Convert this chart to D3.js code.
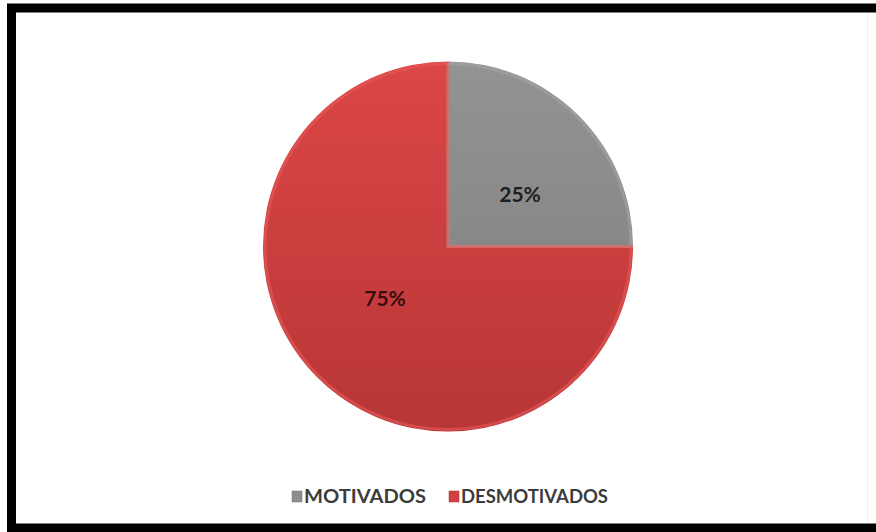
<!DOCTYPE html>
<html><head><meta charset="utf-8">
<script src="https://cdn.jsdelivr.net/npm/d3@7"></script>
<style>html,body{margin:0;padding:0;background:#fff;}svg{display:block;}</style>
</head><body>
<svg id="chart" width="876" height="532"></svg>
<script>
const categories = ["MOTIVADOS", "DESMOTIVADOS"];
const values = [25, 75];
const labels = ["25%", "75%"];
const colors = ["#8d8d8d", "#cf4040"];

const svg = d3.select("#chart");
const font = "Lato, 'Open Sans', sans-serif";

// frame
svg.append("rect").attr("x", 11.5).attr("y", 8).attr("width", 880).attr("height", 520)
  .attr("fill", "#fff").attr("stroke", "#000").attr("stroke-width", 9);
svg.append("line").attr("x1", 867.5).attr("x2", 867.5).attr("y1", 13).attr("y2", 523)
  .attr("stroke", "#eee").attr("stroke-width", 1);

const defs = svg.append("defs");
const gR = defs.append("linearGradient").attr("id", "gRed").attr("x1", 0).attr("y1", 0).attr("x2", 0).attr("y2", 1);
gR.append("stop").attr("offset", "0%").attr("stop-color", "#dc4646");
gR.append("stop").attr("offset", "100%").attr("stop-color", "#b83636");
const gG = defs.append("linearGradient").attr("id", "gGray").attr("x1", 0).attr("y1", 0).attr("x2", 0).attr("y2", 1);
gG.append("stop").attr("offset", "0%").attr("stop-color", "#939393");
gG.append("stop").attr("offset", "100%").attr("stop-color", "#888888");
const fills = ["url(#gGray)", "url(#gRed)"];

const cx = 448, cy = 246.5, r = 185;
const pie = d3.pie().sort(null).value(d => d)(values);
const arc = d3.arc().innerRadius(0).outerRadius(r);
const g = svg.append("g").attr("transform", `translate(${cx},${cy})`);
g.selectAll("path.slice").data(pie).join("path").attr("class", "slice")
  .attr("d", arc).attr("fill", (d, i) => fills[i]);
// bevel highlight
const arcIn = d3.arc().innerRadius(0).outerRadius(r - 2);
g.selectAll("path.bevel").data(pie).join("path").attr("class", "bevel")
  .attr("d", arcIn).attr("fill", "none")
  .attr("stroke", (d, i) => i === 0 ? "#a3a3a3" : "#e85858").attr("stroke-width", 3).attr("opacity", 0.6);

const labelPos = [[72, -53], [-63, 51]];
g.selectAll("text.lbl").data(pie).join("text").attr("class", "lbl")
  .attr("x", (d, i) => labelPos[i][0]).attr("y", (d, i) => labelPos[i][1])
  .attr("text-anchor", "middle").attr("dominant-baseline", "central")
  .attr("font-family", font).attr("font-weight", "bold").attr("font-size", 21)
  .attr("fill", (d, i) => i === 0 ? "#1e1e1e" : "#3a0e0e")
  .text((d, i) => labels[i]);

// legend
const legX = [292, 449];
const legW = [122, 147];
const leg = svg.append("g");
categories.forEach((c, i) => {
  leg.append("rect").attr("x", legX[i]).attr("y", 491).attr("width", 10).attr("height", 11)
    .attr("fill", colors[i]).attr("stroke", i === 0 ? "#777" : "#b33").attr("stroke-width", 0.5);
  leg.append("text").attr("x", legX[i] + 12).attr("y", 503)
    .attr("font-family", font).attr("font-weight", "bold").attr("font-size", 18)
    .attr("textLength", legW[i]).attr("lengthAdjust", "spacingAndGlyphs")
    .attr("fill", "#3c3c3c").text(c);
});
</script>
</body></html>
